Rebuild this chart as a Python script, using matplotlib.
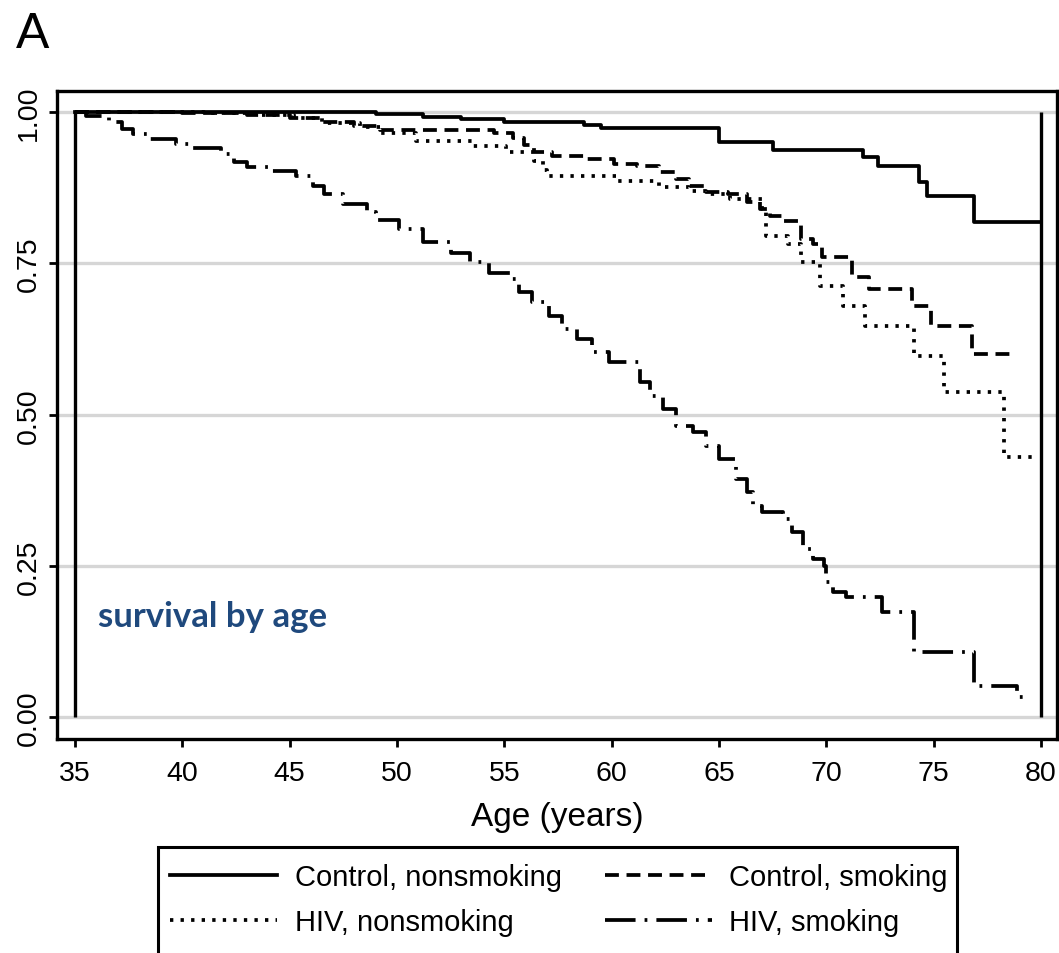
import matplotlib
matplotlib.use("Agg")
import matplotlib.pyplot as plt
from matplotlib.patches import Rectangle

plt.rcParams['font.family'] = ['Liberation Sans', 'DejaVu Sans']
plt.rcParams['lines.scale_dashes'] = False

# ---- data ----
ctrl_ns_age = [35, 49.0, 51.2, 53.0, 55.0, 58.7, 59.5, 65.0, 67.5, 71.7, 72.4, 74.3, 74.7, 76.9, 79.9]
ctrl_ns_surv = [1.0, 0.997, 0.992, 0.988, 0.983, 0.978, 0.974, 0.950, 0.938, 0.926, 0.911, 0.884, 0.861, 0.818, 0.818]

ctrl_s_age = [35, 40, 43, 45, 46.5, 48, 49.2, 54.5, 55.4, 55.9, 56.4, 57.2, 58.8, 60.1, 61.2, 62.2,
              63.0, 63.6, 64.4, 65.4, 66.3, 66.9, 67.4, 68.0, 68.8, 69.4, 69.8, 71.2, 72.0, 74.0,
              74.9, 76.8, 78.7]
ctrl_s_surv = [1.0, 0.998, 0.995, 0.99, 0.984, 0.977, 0.970, 0.965, 0.958, 0.945, 0.934, 0.928, 0.922,
               0.915, 0.911, 0.901, 0.890, 0.878, 0.868, 0.864, 0.851, 0.840, 0.828, 0.820, 0.790,
               0.782, 0.760, 0.727, 0.707, 0.679, 0.646, 0.600, 0.600]

hiv_ns_age = [35, 41, 43.5, 45.2, 46.5, 48.3, 49.2, 50.9, 53.5, 55.1, 56.4, 56.8, 57.0, 60.2, 62.2,
              63.6, 64.4, 65.5, 67.0, 67.2, 68.2, 68.8, 69.7, 70.8, 71.8, 74.1, 75.5, 78.3, 79.7]
hiv_ns_surv = [1.0, 0.998, 0.995, 0.99, 0.982, 0.975, 0.965, 0.953, 0.944, 0.934, 0.92, 0.905, 0.894,
               0.886, 0.876, 0.870, 0.864, 0.856, 0.840, 0.795, 0.782, 0.752, 0.712, 0.679, 0.646,
               0.597, 0.537, 0.430, 0.430]

hiv_s_age = [35, 35.5, 36.6, 37.2, 37.7, 38.5, 39.7, 40.5, 41.8, 42.4, 43.0, 44.1, 45.3, 46.1, 46.6,
             47.5, 48.6, 49.0, 50.1, 51.2, 52.5, 53.4, 54.3, 55.3, 55.7, 56.3, 57.1, 57.7, 58.4,
             59.1, 59.9, 61.3, 61.8, 62.4, 63.0, 63.8, 64.4, 65.0, 65.8, 66.3, 66.6, 67.0, 68.0,
             68.4, 68.9, 69.4, 69.9, 70.0, 70.3, 70.9, 72.6, 74.1, 76.9, 78.9, 79.3]
hiv_s_surv = [1.0, 0.993, 0.983, 0.972, 0.964, 0.955, 0.948, 0.940, 0.931, 0.917, 0.910, 0.903, 0.894,
              0.878, 0.865, 0.848, 0.835, 0.822, 0.807, 0.785, 0.768, 0.752, 0.735, 0.724, 0.702,
              0.686, 0.663, 0.641, 0.625, 0.603, 0.587, 0.554, 0.531, 0.509, 0.481, 0.471, 0.448,
              0.426, 0.393, 0.372, 0.349, 0.339, 0.327, 0.306, 0.278, 0.261, 0.250, 0.223, 0.207,
              0.198, 0.174, 0.107, 0.052, 0.033, 0.033]

x_ticks = [35, 40, 45, 50, 55, 60, 65, 70, 75, 80]
y_ticks = [0.0, 0.25, 0.5, 0.75, 1.0]
y_tick_labels = ["0.00", "0.25", "0.50", "0.75", "1.00"]
labels = ["Control, nonsmoking", "Control, smoking", "HIV, nonsmoking", "HIV, smoking"]

W, H = 1059, 954
fig = plt.figure(figsize=(W / 100, H / 100), dpi=100)
ax = fig.add_axes([57 / W, 1 - 740 / H, 1000 / W, 648 / H])
ax.set_xlim(34.16, 80.75)
ax.set_ylim(-0.036, 1.035)

for y in y_ticks:
    ax.axhline(y, color='#d6d6d6', lw=2.4, zorder=0)
ax.vlines([35, 80], 0, 1, color='black', lw=2.4, zorder=2)

lw = 2.7
l1, = ax.plot(ctrl_ns_age, ctrl_ns_surv, drawstyle='steps-post', color='black', lw=lw, ls='-')
l2, = ax.plot(ctrl_s_age, ctrl_s_surv, drawstyle='steps-post', color='black', lw=lw,
              dashes=(10, 5.5))
l3, = ax.plot(hiv_ns_age, hiv_ns_surv, drawstyle='steps-post', color='black', lw=lw,
              dashes=(2.4, 5.2))
l4, = ax.plot(hiv_s_age, hiv_s_surv, drawstyle='steps-post', color='black', lw=lw,
              dashes=(22, 6.5, 2, 6.5))

for s in ax.spines.values():
    s.set_linewidth(2.4)
ax.set_xticks(x_ticks)
ax.set_yticks(y_ticks)
ax.set_yticklabels(y_tick_labels, rotation=90, va='center')
ax.tick_params(axis='both', direction='out', length=6, width=2.0, labelsize=20.5, color='black')
ax.tick_params(axis='x', pad=9)
ax.tick_params(axis='y', pad=5)
ax.set_xlabel("Age (years)", fontsize=24, labelpad=11)

fig.text(16 / W, 1 - 48 / H, "A", fontsize=36, va='baseline', ha='left',
         family=['Liberation Sans', 'DejaVu Sans'])
fig.text(98 / W, 1 - 627 / H, "survival by age", fontsize=25, fontweight='bold', color='#1F497D',
         va='baseline', ha='left', family=['Lato', 'Open Sans', 'DejaVu Sans'])

# legend box (extends below the canvas)
fig.patches.append(Rectangle((158 / W, 1 - 990 / H), (957 - 158) / W, (990 - 848) / H,
                             transform=fig.transFigure, fill=False, lw=2.2, ec='black'))
fig.legend([l1, l3, l2, l4], [labels[0], labels[2], labels[1], labels[3]], ncol=2,
           loc='upper left', bbox_to_anchor=(170 / W, 1 - 864 / H),
           bbox_transform=fig.transFigure, frameon=False, fontsize=21, borderpad=0,
           borderaxespad=0, handlelength=3.67, handletextpad=0.6, columnspacing=1.48,
           labelspacing=0.6)

fig.savefig("out.png", dpi=100)
